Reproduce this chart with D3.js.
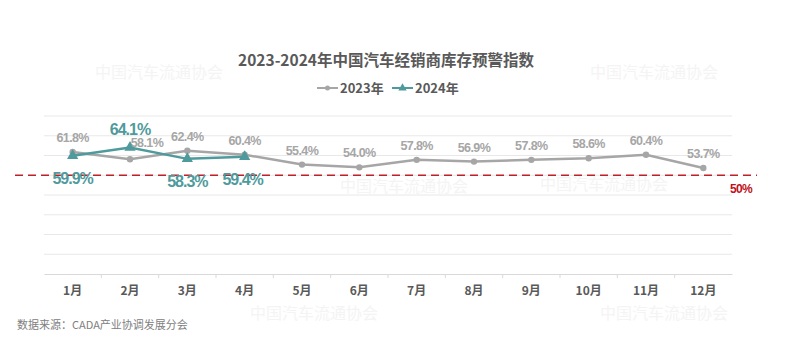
<!DOCTYPE html>
<html>
<head>
<meta charset="utf-8">
<script src="https://cdn.jsdelivr.net/npm/d3@7"></script>
<style>
  body { margin: 0; background: #fff; }
  svg { display: block; }
</style>
</head>
<body>
<div class="inventory-chart"></div>
<script>
const months = ["1月", "2月", "3月", "4月", "5月", "6月", "7月", "8月", "9月", "10月", "11月", "12月"];
const values2023 = [61.8, 58.1, 62.4, 60.4, 55.4, 54.0, 57.8, 56.9, 57.8, 58.6, 60.4, 53.7];
const values2024 = [59.9, 64.1, 58.3, 59.4];
const gridTicks = [0, 10, 20, 30, 40, 50, 60, 70, 80];
const warnLine = 50;
// label tweaks: 2024 labels above (-1) or below (+1) the point
const side2024 = [1, -1, 1, 1];

const width = 800, height = 354;
const narrow = "'Liberation Sans', Arial, sans-serif";
const cjk = "'Noto Sans CJK SC', 'Noto Sans', sans-serif";

const svg = d3.select(".inventory-chart").append("svg")
  .attr("width", width)
  .attr("height", height);

const x = d3.scaleBand().domain(months).range([44, 732]);
const y = d3.scaleLinear().domain([0, 80]).range([274, 116]);
const cx = (d, i) => x(months[i]) + x.bandwidth() / 2;

// faint watermarks
const marks = [[95, 78], [590, 78], [340, 192], [540, 190], [250, 319], [600, 319]];
svg.append("g").selectAll("text")
  .data(marks)
  .enter().append("text")
  .attr("x", (d) => d[0])
  .attr("y", (d) => d[1])
  .attr("fill", "#f4f4f4")
  .attr("font-family", cjk)
  .attr("font-size", 16)
  .text("中国汽车流通协会");

// title
svg.append("text")
  .attr("x", 386)
  .attr("y", 66)
  .attr("text-anchor", "middle")
  .attr("fill", "#595959")
  .attr("font-family", cjk)
  .attr("font-weight", "bold")
  .attr("font-size", 15.5)
  .text("2023-2024年中国汽车经销商库存预警指数");

// legend
const legend = svg.append("g").attr("font-family", cjk).attr("font-size", 13)
  .attr("font-weight", "bold").attr("fill", "#595959");
legend.append("line").attr("x1", 317).attr("x2", 338).attr("y1", 88).attr("y2", 88)
  .attr("stroke", "#a6a6a6").attr("stroke-width", 2);
legend.append("circle").attr("cx", 327.5).attr("cy", 88).attr("r", 2.5).attr("fill", "#a6a6a6");
legend.append("text").attr("x", 340).attr("y", 93).text("2023年");
legend.append("line").attr("x1", 392).attr("x2", 413).attr("y1", 88).attr("y2", 88)
  .attr("stroke", "#4f9a9c").attr("stroke-width", 2);
legend.append("path").attr("d", d3.symbol(d3.symbolTriangle, 30)())
  .attr("transform", "translate(402.5,88)").attr("fill", "#4f9a9c");
legend.append("text").attr("x", 415).attr("y", 93).text("2024年");

// gridlines
svg.append("g").selectAll("line")
  .data(gridTicks.filter((t) => t > 0))
  .enter().append("line")
  .attr("x1", 44).attr("x2", 732)
  .attr("y1", (d) => y(d)).attr("y2", (d) => y(d))
  .attr("stroke", "#e8e8e8").attr("stroke-width", 1);

// x axis
const xAxis = d3.axisBottom(x).tickSize(0).tickPadding(12);
const gx = svg.append("g").attr("transform", `translate(0,${y(0)})`).call(xAxis);
gx.select(".domain").attr("stroke", "#d9d9d9");
gx.selectAll("text")
  .attr("fill", "#595959")
  .attr("font-family", cjk)
  .attr("font-weight", "bold")
  .attr("font-size", 12);
gx.selectAll(".sep")
  .data(months.slice(1))
  .enter().append("line")
  .attr("class", "sep")
  .attr("x1", (d) => x(d)).attr("x2", (d) => x(d))
  .attr("y1", 0).attr("y2", 4)
  .attr("stroke", "#d9d9d9");

// warning line
svg.append("line")
  .attr("x1", 15).attr("x2", 757)
  .attr("y1", y(warnLine)).attr("y2", y(warnLine))
  .attr("stroke", "#c0202a").attr("stroke-width", 1.3)
  .attr("stroke-dasharray", "8,5");
svg.append("text")
  .attr("x", 741).attr("y", 193)
  .attr("text-anchor", "middle")
  .attr("fill", "#c0101a")
  .attr("font-family", narrow)
  .attr("font-weight", "bold")
  .attr("font-size", 12)
  .attr("letter-spacing", -0.6)
  .text(warnLine + "%");

const line = d3.line().x(cx).y((d) => y(d));

// 2023 series
svg.append("path").datum(values2023)
  .attr("d", line)
  .attr("fill", "none")
  .attr("stroke", "#a6a6a6")
  .attr("stroke-width", 2.5);
svg.append("g").selectAll("circle")
  .data(values2023)
  .enter().append("circle")
  .attr("cx", cx).attr("cy", (d) => y(d))
  .attr("r", 3.2)
  .attr("fill", "#a6a6a6");

// 2024 series
svg.append("path").datum(values2024)
  .attr("d", line)
  .attr("fill", "none")
  .attr("stroke", "#4f9a9c")
  .attr("stroke-width", 2.5);
svg.append("g").selectAll("path")
  .data(values2024)
  .enter().append("path")
  .attr("d", d3.symbol(d3.symbolTriangle, 55)())
  .attr("transform", (d, i) => `translate(${cx(d, i)},${y(d)})`)
  .attr("fill", "#4f9a9c");

// 2023 labels
svg.append("g").selectAll("text")
  .data(values2023)
  .enter().append("text")
  .attr("x", (d, i) => cx(d, i) + (i === 1 ? 17 : 0))
  .attr("y", (d, i) => y(d) - (i === 1 ? 12 : 10))
  .attr("text-anchor", "middle")
  .attr("fill", "#a6a6a6")
  .attr("font-family", narrow)
  .attr("font-weight", "bold")
  .attr("font-size", 12.5)
  .attr("letter-spacing", -0.6)
  .text((d) => d.toFixed(1) + "%");

// 2024 labels
svg.append("g").selectAll("text")
  .data(values2024)
  .enter().append("text")
  .attr("x", (d, i) => cx(d, i) + (i === 3 ? -2 : 0))
  .attr("y", (d, i) => side2024[i] < 0 ? y(d) - 12 : y(d) + 28)
  .attr("text-anchor", "middle")
  .attr("fill", "#4f9a9c")
  .attr("font-family", narrow)
  .attr("font-weight", "bold")
  .attr("font-size", 16)
  .attr("letter-spacing", -1)
  .text((d) => d.toFixed(1) + "%");

// source note
svg.append("text")
  .attr("x", 17).attr("y", 329)
  .attr("fill", "#808080")
  .attr("font-family", cjk)
  .attr("font-size", 11)
  .text("数据来源：CADA产业协调发展分会");
</script>
</body>
</html>
